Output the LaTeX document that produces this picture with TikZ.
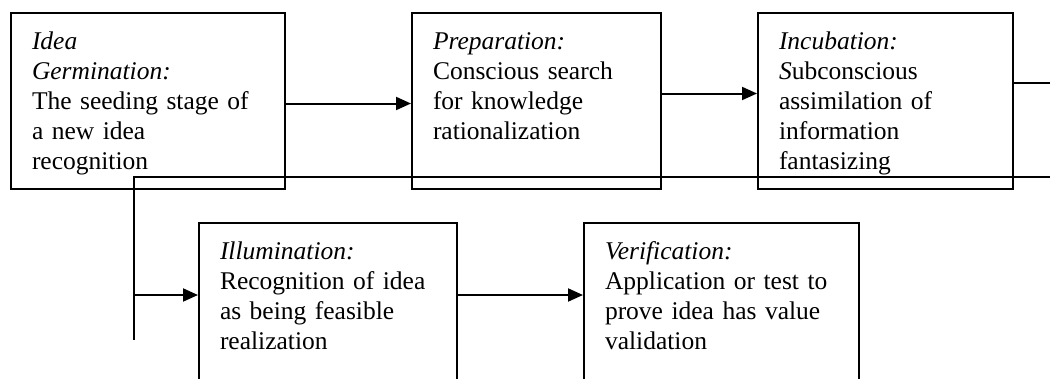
\documentclass[tikz,border=0pt]{standalone}
\usepackage{fontspec}
\setmainfont{Liberation Serif}
\usetikzlibrary{arrows.meta}
\tikzset{
    stage/.style={draw,line width=2pt,anchor=north west,align=left,inner xsep=21pt,inner ysep=19pt,text height=17pt,font=\fontsize{25.5}{30}\selectfont},
    flow/.style={line width=2pt,-{Triangle[length=15pt,width=13pt]}}
}
\begin{document}
\begin{tikzpicture}[x=1pt,y=-1pt]
\useasboundingbox (0,0) rectangle (1050,378);
\clip (0,0) rectangle (1050,378);

%top row
\node[stage,text width=232pt,text depth=121pt] at (10,12)(germ){\textit{Idea}\\\textit{Germination:}\\The seeding stage of\\a new idea\\recognition};
\node[stage,text width=207pt,text depth=121pt] at (411,12)(prep){\textit{Preparation:}\\Conscious search\\for knowledge\\rationalization};
\node[stage,text width=213pt,text depth=121pt] at (757,12)(incu){\textit{Incubation:}\\\textit{S}ubconscious\\assimilation of\\information\\fantasizing};

%bottom row
\node[stage,text width=216pt,text depth=160pt] at (198,222)(illu){\textit{Illumination:}\\Recognition of idea\\as being feasible\\realization};
\node[stage,text width=233pt,text depth=160pt] at (583,222)(veri){\textit{Verification:}\\Application or test to\\prove idea has value\\validation};

%links
\coordinate (out) at (1050,83);
\coordinate (back) at (1050,177);
\coordinate (turn) at (134,177);
\coordinate (foot) at (134,340);
\coordinate (tap) at (134,295);
\draw[flow] ([yshift=-2.5pt]germ.east) -- ([yshift=-2.5pt]germ.east -| prep.west);
\draw[flow] ([yshift=7.5pt]prep.east) -- ([yshift=7.5pt]prep.east -| incu.west);
\path[draw,line width=2pt] (out -| incu.east) -- (out);
\path[draw,line width=2pt] (back) -- (turn) -- (foot);
\draw[flow] (tap) -- (tap -| illu.west);
\draw[flow] (tap -| illu.east) -- (tap -| veri.west);

\end{tikzpicture}
\end{document}
